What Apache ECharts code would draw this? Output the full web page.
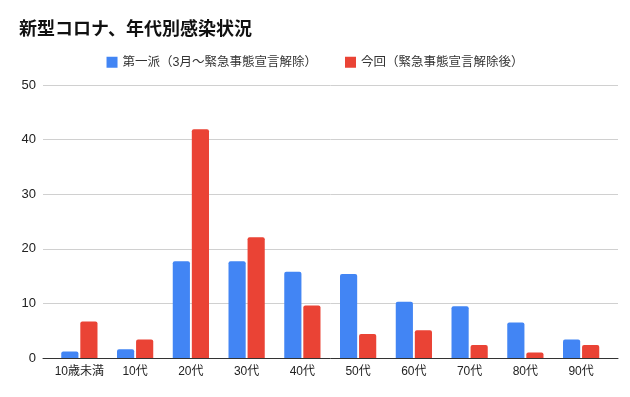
<!DOCTYPE html>
<html>
<head>
<meta charset="utf-8">
<script src="https://cdn.jsdelivr.net/npm/echarts@6/dist/echarts.min.js"></script>
<style>
  html, body { margin: 0; padding: 0; background: #fff; }
  #chart { width: 630px; height: 397px; }
</style>
</head>
<body>
<div id="chart"></div>
<script>
const ageGroups = ['10歳未満', '10代', '20代', '30代', '40代', '50代', '60代', '70代', '80代', '90代'];
const firstWave = [1.2, 1.6, 17.7, 17.7, 15.8, 15.4, 10.3, 9.5, 6.5, 3.4];
const currentWave = [6.7, 3.4, 41.9, 22.1, 9.6, 4.4, 5.1, 2.4, 1.0, 2.4];
const yTicks = { min: 0, max: 50, interval: 10 };

const font = "'Liberation Sans', 'Noto Sans CJK JP', sans-serif";

const chart = echarts.init(document.getElementById('chart'));

// 目盛り線と基線は広い方のグリッド、棒は内側のグリッドに描く
const option = {
  animation: false,
  backgroundColor: '#fff',
  textStyle: { fontFamily: font },
  title: {
    text: '新型コロナ、年代別感染状況',
    left: 14,
    top: 16,
    textStyle: { fontSize: 18, fontWeight: 'bold', color: '#111', fontFamily: font }
  },
  legend: {
    top: 51,
    left: 'center',
    itemWidth: 11,
    itemHeight: 11,
    itemGap: 28,
    icon: 'rect',
    textStyle: { fontSize: 12.5, color: '#333', fontFamily: font }
  },
  grid: [
    { left: 43, right: 12, top: 85, bottom: 39 },
    { left: 51.5, right: 21, top: 85, bottom: 39 }
  ],
  xAxis: [
    {
      gridIndex: 0,
      type: 'value',
      min: 0,
      max: 1,
      axisLine: { show: true, onZero: false, lineStyle: { color: '#333', width: 1 } },
      axisTick: { show: false },
      axisLabel: { show: false },
      splitLine: { show: false }
    },
    {
      gridIndex: 1,
      type: 'category',
      data: ageGroups,
      axisLine: { show: false },
      axisTick: { show: false },
      axisLabel: { interval: 0, margin: 8, fontSize: 12, color: '#222', fontFamily: font }
    }
  ],
  yAxis: [
    {
      gridIndex: 0,
      type: 'value',
      min: yTicks.min,
      max: yTicks.max,
      interval: yTicks.interval,
      axisLine: { show: false },
      axisTick: { show: false },
      axisLabel: { margin: 7, fontSize: 13, color: '#222', fontFamily: font },
      splitLine: { lineStyle: { color: '#d0d0d0', width: 1 } }
    },
    {
      gridIndex: 1,
      type: 'value',
      min: yTicks.min,
      max: yTicks.max,
      interval: yTicks.interval,
      show: false,
      splitLine: { show: false }
    }
  ],
  series: [
    {
      name: '第一派（3月〜緊急事態宣言解除）',
      type: 'bar',
      xAxisIndex: 1,
      yAxisIndex: 1,
      data: firstWave,
      barGap: '11%',
      barCategoryGap: '35%',
      itemStyle: { color: '#4285f4', borderRadius: [2, 2, 0, 0] }
    },
    {
      name: '今回（緊急事態宣言解除後）',
      type: 'bar',
      xAxisIndex: 1,
      yAxisIndex: 1,
      data: currentWave,
      barGap: '11%',
      barCategoryGap: '35%',
      itemStyle: { color: '#ea4335', borderRadius: [2, 2, 0, 0] }
    }
  ]
};

chart.setOption(option);
</script>
</body>
</html>
